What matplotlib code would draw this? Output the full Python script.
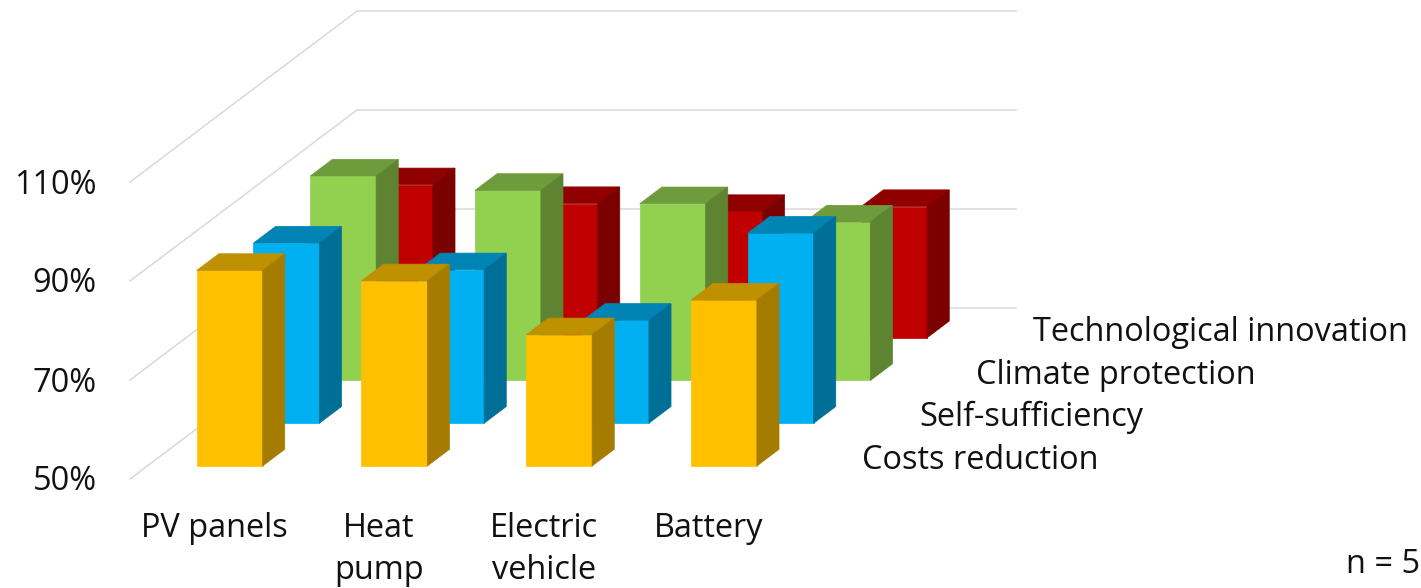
#!/usr/bin/env python3
"""3D-style clustered columns: motives for adopting home energy technologies."""

import matplotlib
matplotlib.use("Agg")
import matplotlib.pyplot as plt
from matplotlib.patches import Polygon

plt.rcParams["font.family"] = ["Open Sans", "DejaVu Sans"]

categories = ["PV panels", "Heat\npump", "Electric\nvehicle", "Battery"]
series_names = ["Costs reduction", "Self-sufficiency", "Climate protection", "Technological innovation"]
costs_reduction = [89.5, 87.4, 76.5, 83.5]
self_sufficiency = [86.4, 81.0, 70.8, 88.4]
climate_protection = [91.3, 88.4, 85.7, 82.0]
technological_innovation = [80.9, 77.1, 75.5, 76.5]
value_ticks = [50, 70, 90, 110]

# front, top, side shades per series
COLORS = [
    ("#FFC000", "#BF9000", "#A67C00"),
    ("#00B0F0", "#0084B4", "#006F97"),
    ("#92D050", "#6E9C3C", "#5E8432"),
    ("#C00000", "#900000", "#7B0000"),
]

# oblique projection, all in figure pixels
X0, Y0 = 130, 479
CAT_W = 164.75
DEPTH_DX, DEPTH_DY = 56.75, 42.75
PX_PER_PCT = 4.95
BAR_W = 0.4
BAR_D = 0.39
FONT = 23.4
TEXT_COLOR = "#111111"


def project(cat, depth, value):
    x = X0 + CAT_W * cat + DEPTH_DX * depth
    y = Y0 - PX_PER_PCT * (value - value_ticks[0]) - DEPTH_DY * depth
    return x, y


def draw_bar(ax, cat, depth, value, colors):
    x0, x1 = cat + (1 - BAR_W) / 2, cat + (1 + BAR_W) / 2
    d0, d1 = depth + (1 - BAR_D) / 2, depth + (1 + BAR_D) / 2
    base = value_ticks[0]
    front = [(x0, d0, base), (x1, d0, base), (x1, d0, value), (x0, d0, value)]
    top = [(x0, d0, value), (x1, d0, value), (x1, d1, value), (x0, d1, value)]
    side = [(x1, d0, base), (x1, d1, base), (x1, d1, value), (x1, d0, value)]
    for face, color in zip((front, top, side), colors):
        ax.add_patch(Polygon([project(*p) for p in face], closed=True, zorder=3,
                             facecolor=color, edgecolor=color, linewidth=0.5))


fig = plt.figure(figsize=(14.21, 5.88), dpi=100)
ax = fig.add_axes([0, 0, 1, 1])
ax.set_xlim(0, 1421)
ax.set_ylim(588, 0)
ax.axis("off")

n_cat = len(categories)
n_series = len(series_names)

# gridlines on the side wall and the back wall
for v in value_ticks:
    pts = [project(0, 0, v), project(0, n_series, v), project(n_cat, n_series, v)]
    ax.plot(*zip(*pts), color="#D9D9D9", linewidth=1.1, solid_joinstyle="miter", zorder=1)
    x, y = project(0, 0, v)
    ax.text(x - 33, y + 3, f"{v}%", ha="right", va="center", fontsize=FONT, color=TEXT_COLOR)

# back rows first so the front rows cover them
all_series = [costs_reduction, self_sufficiency, climate_protection, technological_innovation]
for depth in reversed(range(n_series)):
    for cat in range(n_cat):
        draw_bar(ax, cat, depth, all_series[depth][cat], COLORS[depth])

# second lines sit tight against the bottom edge
for cat, name in enumerate(categories):
    x, _ = project(cat + 0.5, 0, value_ticks[0])
    for i, line in enumerate(name.split("\n")):
        ax.text(x + 2, 537 + 42 * i, line, ha="center", va="baseline", fontsize=FONT, color=TEXT_COLOR)

for depth, name in enumerate(series_names):
    x, y = project(n_cat, depth + 0.5, value_ticks[0])
    ax.text(x + 45, y + 3, name, ha="left", va="center", fontsize=FONT, color=TEXT_COLOR)

ax.text(1420, 573, "n = 5", ha="right", va="baseline", fontsize=FONT, color=TEXT_COLOR)

fig.savefig("out.png", dpi=100)
plt.close(fig)
